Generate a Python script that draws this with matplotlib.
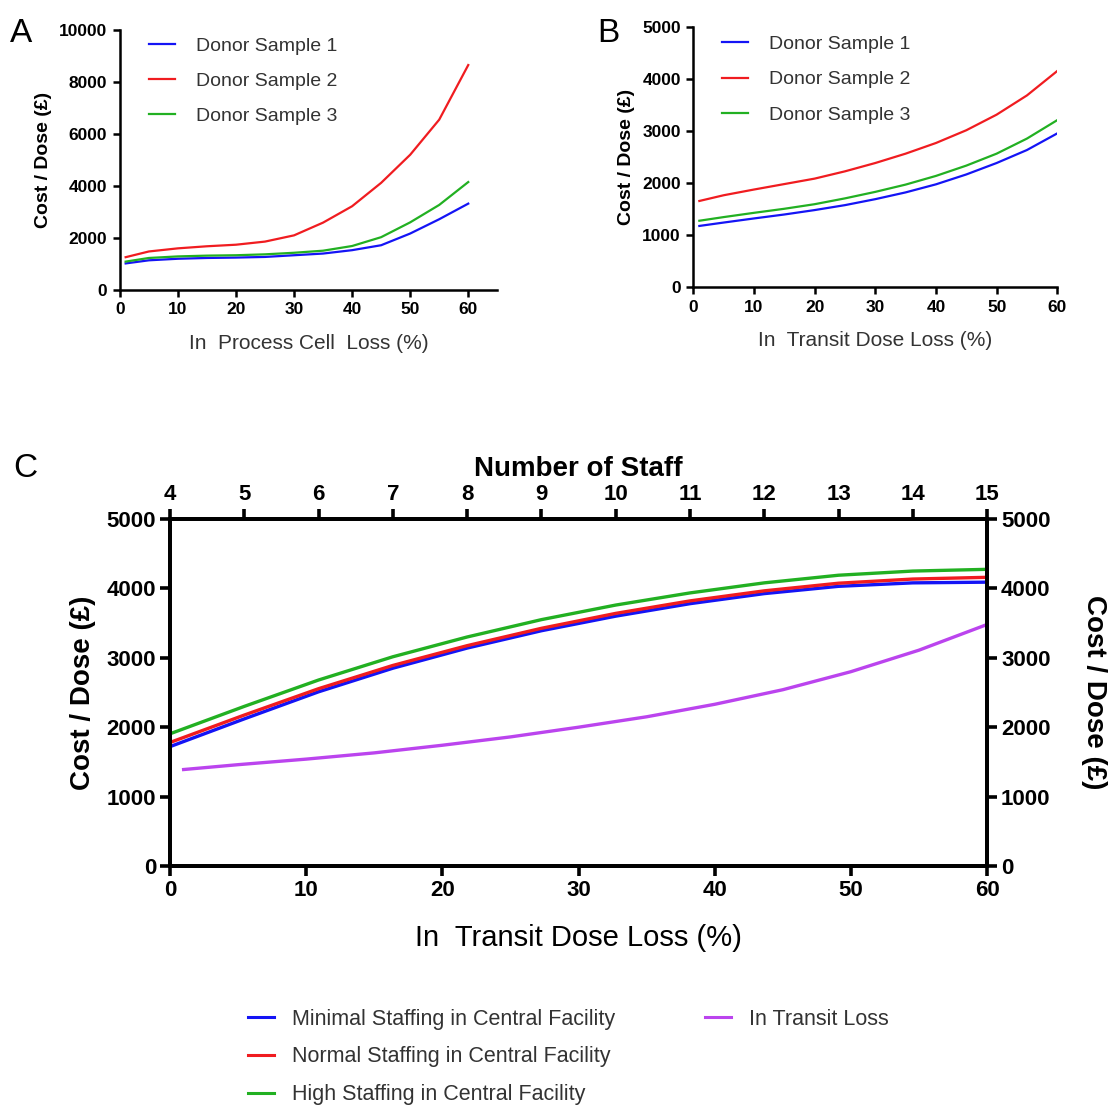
import numpy as np
import matplotlib.pyplot as plt
from matplotlib.lines import Line2D

plt.rcParams['font.family'] = ['Liberation Sans', 'DejaVu Sans']

# ---- panel A : in process cell loss ----
loss_a = [1, 5, 10, 15, 20, 25, 30, 35, 40, 45, 50, 55, 60]
a_donor1 = [1020, 1140, 1200, 1230, 1245, 1270, 1335, 1400, 1530, 1720, 2170, 2720, 3320]
a_donor2 = [1260, 1480, 1600, 1680, 1740, 1860, 2100, 2590, 3220, 4120, 5200, 6550, 8650]
a_donor3 = [1090, 1230, 1290, 1320, 1335, 1370, 1430, 1510, 1690, 2030, 2600, 3270, 4150]

# ---- panel B : in transit dose loss ----
loss_b = [1, 5, 10, 15, 20, 25, 30, 35, 40, 45, 50, 55, 60]
b_donor1 = [1180, 1245, 1324, 1400, 1485, 1580, 1695, 1825, 1980, 2170, 2390, 2640, 2960]
b_donor2 = [1660, 1770, 1880, 1985, 2090, 2230, 2390, 2570, 2775, 3020, 3320, 3690, 4160]
b_donor3 = [1280, 1350, 1432, 1510, 1598, 1710, 1835, 1975, 2142, 2340, 2570, 2860, 3215]

# ---- panel C : staffing (top axis) vs transit loss (bottom axis) ----
staff = [4, 5, 6, 7, 8, 9, 10, 11, 12, 13, 14, 15]
c_minimal = [1720, 2120, 2510, 2850, 3140, 3390, 3600, 3780, 3925, 4030, 4080, 4090]
c_normal = [1780, 2175, 2555, 2890, 3175, 3425, 3640, 3820, 3965, 4075, 4135, 4160]
c_high = [1905, 2300, 2680, 3015, 3300, 3550, 3760, 3935, 4080, 4190, 4250, 4275]
loss_c = [1, 5, 10, 15, 20, 25, 30, 35, 40, 45, 50, 55, 60]
c_transit = [1390, 1460, 1540, 1630, 1740, 1860, 2000, 2150, 2330, 2540, 2800, 3110, 3480]

donor_labels = ["Donor Sample 1", "Donor Sample 2", "Donor Sample 3"]
staff_labels = ["Minimal Staffing in Central Facility",
                "Normal Staffing in Central Facility",
                "High Staffing in Central Facility"]
transit_label = "In Transit Loss"

BLUE = "#1414f5"
RED = "#f01c20"
GREEN = "#22b022"
PURPLE = "#bb44ee"
TXT = "#333333"

fig = plt.figure(figsize=(11.2, 11.05), dpi=100)


def style_small(ax):
    for s in ["top", "right"]:
        ax.spines[s].set_visible(False)
    for s in ["left", "bottom"]:
        ax.spines[s].set_linewidth(1.8)
    ax.tick_params(direction="out", length=5, width=1.8, labelsize=12.5, pad=4)
    for lab in ax.get_xticklabels() + ax.get_yticklabels():
        lab.set_fontweight("bold")


def donor_legend(ax, y):
    ax.legend(loc="upper left", bbox_to_anchor=(0.03, y), frameon=False,
              fontsize=14, labelcolor=TXT, handlelength=1.35, handletextpad=1.1,
              labelspacing=0.9)


# panel A
axA = fig.add_axes([0.107, 0.7376, 0.337, 0.2353])
axA.plot(loss_a, a_donor1, color=BLUE, lw=1.6, label=donor_labels[0])
axA.plot(loss_a, a_donor2, color=RED, lw=1.6, label=donor_labels[1])
axA.plot(loss_a, a_donor3, color=GREEN, lw=1.6, label=donor_labels[2])
axA.set_xlim(0, 65)
axA.set_ylim(0, 10000)
axA.set_xticks(range(0, 61, 10))
axA.set_yticks(range(0, 10001, 2000))
style_small(axA)
axA.set_ylabel("Cost / Dose (£)", fontsize=14, fontweight="bold", labelpad=5)
axA.set_xlabel("In  Process Cell  Loss (%)", fontsize=15, color=TXT, labelpad=12)
donor_legend(axA, 1.04)
fig.text(0.009, 0.962, "A", fontsize=24)

# panel B
axB = fig.add_axes([0.619, 0.740, 0.325, 0.2353])
axB.plot(loss_b, b_donor1, color=BLUE, lw=1.6, label=donor_labels[0])
axB.plot(loss_b, b_donor2, color=RED, lw=1.6, label=donor_labels[1])
axB.plot(loss_b, b_donor3, color=GREEN, lw=1.6, label=donor_labels[2])
axB.set_xlim(0, 60)
axB.set_ylim(0, 5000)
axB.set_xticks(range(0, 61, 10))
axB.set_yticks(range(0, 5001, 1000))
style_small(axB)
axB.set_ylabel("Cost / Dose (£)", fontsize=14, fontweight="bold", labelpad=5)
axB.set_xlabel("In  Transit Dose Loss (%)", fontsize=15, color=TXT, labelpad=12)
donor_legend(axB, 1.035)
fig.text(0.533, 0.962, "B", fontsize=24)

# panel C
axC = fig.add_axes([0.1518, 0.2163, 0.7295, 0.314])
axC.plot(loss_c, c_transit, color=PURPLE, lw=2.4)
axC.set_xlim(0, 60)
axC.set_ylim(0, 5000)
axC.set_xticks(range(0, 61, 10))
axC.set_yticks(range(0, 5001, 1000))

axT = axC.twiny()
axT.plot(staff, c_minimal, color=BLUE, lw=2.4)
axT.plot(staff, c_normal, color=RED, lw=2.4)
axT.plot(staff, c_high, color=GREEN, lw=2.4)
axT.set_xlim(4, 15)
axT.set_xticks(staff)

axR = axC.twinx()
axR.set_ylim(0, 5000)
axR.set_yticks(range(0, 5001, 1000))

for ax in (axC, axT, axR):
    for s in ax.spines.values():
        s.set_linewidth(2.6)
    ax.tick_params(direction="out", length=7, width=2.6, labelsize=16, pad=3)
    for lab in ax.get_xticklabels() + ax.get_yticklabels():
        lab.set_fontweight("bold")
axR.tick_params(axis="x", which="both", top=False, bottom=False)

axC.set_ylabel("Cost / Dose (£)", fontsize=20, fontweight="bold", labelpad=8)
axR.set_ylabel("Cost / Dose (£)", fontsize=20, fontweight="bold", rotation=270,
               labelpad=41)
axC.set_xlabel("In  Transit Dose Loss (%)", fontsize=21, labelpad=17)
axT.set_xlabel("Number of Staff", fontsize=20, fontweight="bold", labelpad=6)
fig.text(0.012, 0.568, "C", fontsize=24)

h_staff = [Line2D([], [], color=c, lw=2.2) for c in (BLUE, RED, GREEN)]
fig.legend(h_staff, staff_labels, loc="upper left", bbox_to_anchor=(0.21, 0.099),
           frameon=False, fontsize=15.5, labelcolor=TXT, handlelength=1.2,
           handletextpad=0.85, labelspacing=0.78, borderaxespad=0.2)
fig.legend([Line2D([], [], color=PURPLE, lw=2.2)], [transit_label], loc="upper left",
           bbox_to_anchor=(0.618, 0.099), frameon=False, fontsize=15.5,
           labelcolor=TXT, handlelength=1.2, handletextpad=0.85, borderaxespad=0.2)

fig.savefig("out.png", dpi=100)
